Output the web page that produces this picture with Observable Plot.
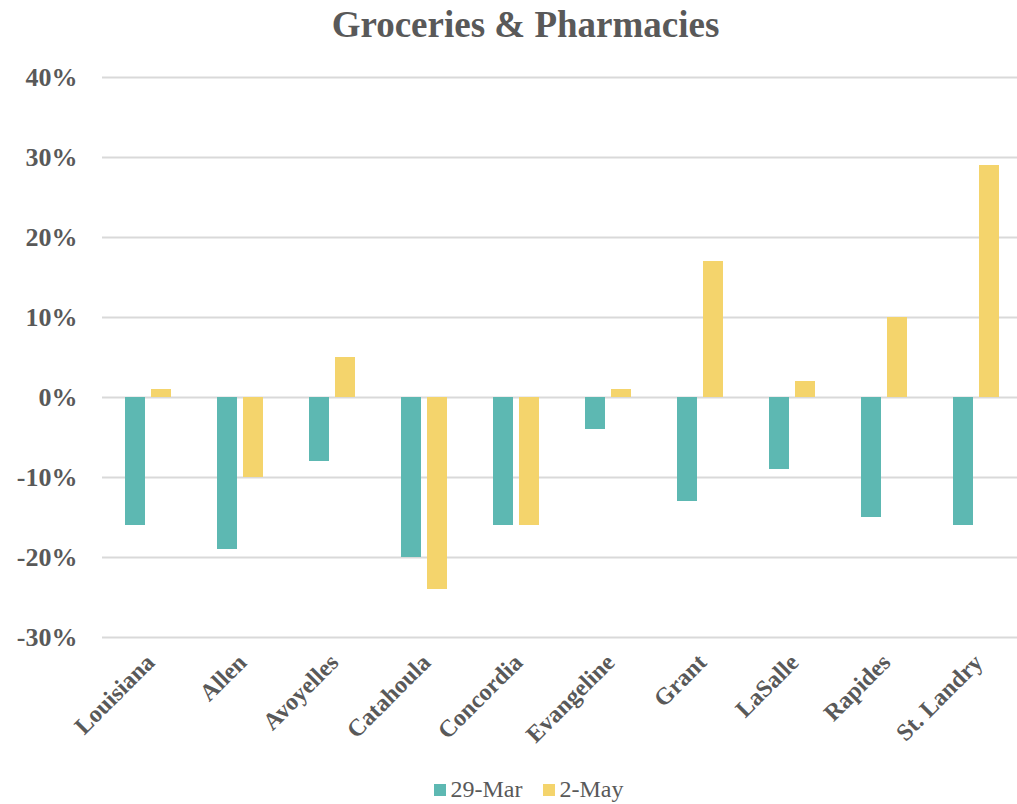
<!DOCTYPE html>
<html><head><meta charset="utf-8">
<script src="https://cdn.jsdelivr.net/npm/d3@7"></script>
<script src="https://cdn.jsdelivr.net/npm/@observablehq/plot@0.6"></script>
<style>
body{margin:0;background:#fff;font-family:"Liberation Serif","Times New Roman",serif;color:#595959;overflow:hidden;}
#title{width:1017px;height:50px;text-align:center;font-weight:bold;font-size:37px;line-height:50px;padding-left:34px;box-sizing:border-box;}
#chart{width:1017px;height:725px;overflow:hidden;}
#chart svg{max-width:none !important;}
#legend{width:1017px;height:29px;display:flex;justify-content:center;align-items:center;font-size:24px;gap:20px;padding-left:40px;box-sizing:border-box;}
.sw{display:inline-block;width:12px;height:12px;margin-right:5px;vertical-align:middle;position:relative;top:-1px;}
</style></head><body>
<div id="title">Groceries &amp; Pharmacies</div>
<div id="chart"></div>
<div id="legend"></div>
<script>
const categories = ["Louisiana","Allen","Avoyelles","Catahoula","Concordia","Evangeline","Grant","LaSalle","Rapides","St. Landry"];
const series = ["29-Mar","2-May"];
const mar29 = [-16,-19,-8,-20,-16,-4,-13,-9,-15,-16];
const may2 = [1,-10,5,-24,-16,1,17,2,10,29];
const yTicks = [-30,-20,-10,0,10,20,30,40];
const colors = ["#5DB8B2","#F4D46C"];

const data = [];
categories.forEach((c,i)=>{
  data.push({cat:c, s:series[0], v:mar29[i]/100});
  data.push({cat:c, s:series[1], v:may2[i]/100});
});

(function(){
  const el = document.getElementById("chart");
  const plot = Plot.plot({
    width:1026, height:725,
    marginTop:27, marginBottom:138, marginLeft:98, marginRight:0,
    style:{fontFamily:'"Liberation Serif","Times New Roman",serif', color:"#595959", background:"#fff", maxWidth:"none"},
    fx:{domain:categories, padding:0, label:null, axis:null},
    x:{domain:series, paddingInner:0.222, paddingOuter:0.83, axis:null},
    y:{domain:[-0.30,0.40], label:null, axis:null},
    color:{domain:series, range:colors},
    marks:[
      Plot.gridY(yTicks.map(d=>d/100), {stroke:"#D9D9D9", strokeOpacity:1, strokeWidth:2}),
      Plot.barY(data, {fx:"cat", x:"s", y:"v", fill:"s"}),
      Plot.axisY(yTicks.map(d=>d/100), {tickFormat:d=>Math.round(d*100)+"%", tickSize:0, tickPadding:25, fontSize:26, fontWeight:"bold", fill:"#595959", label:null}),
      Plot.axisFx({tickRotate:-45, tickSize:0, tickPadding:21, fontSize:24, fontWeight:"bold", fill:"#595959", label:null, anchor:"bottom", dx:2})
    ]
  });
  el.appendChild(plot);
  const lg = document.getElementById("legend");
  series.forEach((s,i)=>{
    const span=document.createElement("span");
    span.innerHTML=`<span class="sw" style="background:${colors[i]}"></span>${s}`;
    lg.appendChild(span);
  });
})();
</script>
</body></html>
